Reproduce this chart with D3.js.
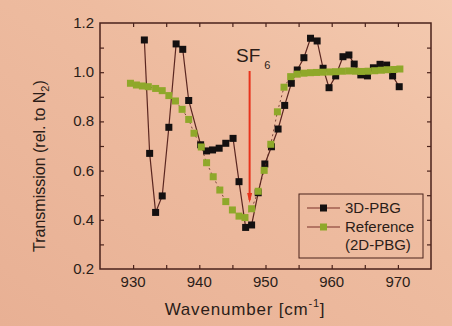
<!DOCTYPE html>
<html>
<head>
<meta charset="utf-8">
<script src="https://cdn.jsdelivr.net/npm/d3@7"></script>
<style>
  body { margin: 0; background: #ecbc9f; }
  svg { display: block; font-family: "Liberation Sans", Arial, sans-serif; }
</style>
</head>
<body>
<svg id="chart"></svg>
<script>
// 3D-PBG series
var pbgX = [931.7, 932.5, 933.4, 934.4, 935.4, 936.5, 937.5, 938.4, 940.2, 941.1, 942.0, 943.0, 944.0, 945.1, 946.0, 947.0, 947.9, 948.9, 949.9, 950.9, 951.9, 952.9, 953.9, 954.8, 955.8, 956.8, 957.8, 958.7, 959.6, 960.6, 961.7, 962.6, 963.4, 964.4, 965.4, 966.3, 967.3, 968.3, 969.2, 970.2];
var pbgY = [1.131, 0.67, 0.43, 0.497, 0.776, 1.115, 1.093, 0.885, 0.705, 0.680, 0.684, 0.691, 0.711, 0.731, 0.555, 0.369, 0.379, 0.51, 0.627, 0.697, 0.769, 0.865, 0.955, 1.009, 1.059, 1.138, 1.127, 1.016, 0.937, 0.985, 1.063, 1.07, 1.033, 0.989, 0.985, 1.018, 1.032, 1.029, 0.985, 0.941];

// Reference (2D-PBG) series
var refX = [929.6, 930.5, 931.4, 932.3, 933.4, 934.4, 935.4, 936.4, 937.4, 938.4, 939.2, 940.3, 941.1, 942.1, 943.1, 944.0, 945.0, 946.0, 946.9, 947.9, 948.9, 949.8, 950.8, 951.8, 952.8, 953.8, 954.8, 955.8, 956.8, 957.7, 958.7, 959.7, 960.6, 961.6, 962.6, 963.6, 964.5, 965.5, 966.5, 967.5, 968.4, 969.4, 970.3];
var refY = [0.955, 0.948, 0.944, 0.941, 0.934, 0.925, 0.905, 0.883, 0.849, 0.808, 0.752, 0.696, 0.632, 0.575, 0.521, 0.474, 0.440, 0.415, 0.409, 0.445, 0.516, 0.601, 0.707, 0.839, 0.939, 0.982, 0.992, 0.996, 0.998, 0.999, 1.000, 1.001, 1.002, 1.004, 1.005, 1.004, 1.003, 1.004, 1.006, 1.008, 1.010, 1.011, 1.013];

var xTicks = [930, 940, 950, 960, 970];
var yTicks = [0.2, 0.4, 0.6, 0.8, 1.0, 1.2];
var sfLine = 947.6; // SF6 absorption marker

var width = 452, height = 326;
var ink = "#2b1d18", frame = "#4a221b", lineCol = "#5a2620";
var green = "#8fa82a", black = "#141010";
var ms = 7; // marker size

var svg = d3.select("#chart").attr("width", width).attr("height", height);

// paper background
var defs = svg.append("defs");
var grad = defs.append("linearGradient").attr("id", "paper")
  .attr("x1", "0%").attr("y1", "100%").attr("x2", "100%").attr("y2", "0%");
grad.append("stop").attr("offset", "0%").attr("stop-color", "#e8b094");
grad.append("stop").attr("offset", "60%").attr("stop-color", "#eebca0");
grad.append("stop").attr("offset", "100%").attr("stop-color", "#f4cab0");
svg.append("rect").attr("width", width).attr("height", height).attr("fill", "url(#paper)");

var x = d3.scaleLinear().domain([925, 975]).range([100, 431]);
var y = d3.scaleLinear().domain([0.2, 1.2]).range([269, 23]);

var g = svg.append("g");

// ticks (inward, on all four sides)
g.append("g").attr("transform", "translate(0,269)")
  .call(d3.axisBottom(x).tickValues(d3.range(930, 975, 5)).tickSize(-4).tickFormat(""));
g.append("g").attr("transform", "translate(0,23)")
  .call(d3.axisTop(x).tickValues(d3.range(930, 975, 5)).tickSize(-4).tickFormat(""));
g.append("g").attr("transform", "translate(100,0)")
  .call(d3.axisLeft(y).tickValues(d3.range(0.3, 1.2, 0.1)).tickSize(-4).tickFormat(""));
g.append("g").attr("transform", "translate(431,0)")
  .call(d3.axisRight(y).tickValues(d3.range(0.3, 1.2, 0.1)).tickSize(-4).tickFormat(""));
g.selectAll(".domain").remove();
g.selectAll(".tick line").attr("stroke", frame).attr("stroke-width", 1.2);

svg.append("rect").attr("x", 100).attr("y", 23).attr("width", 331).attr("height", 246)
  .attr("fill", "none").attr("stroke", frame).attr("stroke-width", 1.5);

// tick labels
svg.append("g").selectAll("text").data(xTicks).join("text")
  .attr("x", d => x(d)).attr("y", 287).attr("text-anchor", "middle")
  .attr("font-size", 15).attr("fill", ink).text(d => d);
svg.append("g").selectAll("text").data(yTicks).join("text")
  .attr("x", 94).attr("y", d => y(d) + 5).attr("text-anchor", "end")
  .attr("font-size", 15).attr("fill", ink).text(d => d.toFixed(1));

// axis titles
var xt = svg.append("text").attr("x", 245).attr("y", 315).attr("text-anchor", "middle")
  .attr("font-size", 17).attr("letter-spacing", 0.8).attr("fill", ink);
xt.append("tspan").text("Wavenumber [cm");
xt.append("tspan").attr("font-size", 11).attr("dy", -8).text("-1");
xt.append("tspan").attr("dy", 8).text("]");

var yt = svg.append("text").attr("transform", "translate(45,252) rotate(-90)")
  .attr("text-anchor", "start").attr("font-size", 16).attr("fill", ink);
yt.append("tspan").text("Transmission (rel. to N");
yt.append("tspan").attr("font-size", 11).attr("dy", 4).text("2");
yt.append("tspan").attr("dy", -4).text(")");

// SF6 arrow
svg.append("line").attr("x1", x(sfLine)).attr("x2", x(sfLine)).attr("y1", 71).attr("y2", 200)
  .attr("stroke", "#e8321c").attr("stroke-width", 2);
svg.append("path")
  .attr("d", `M${x(sfLine) - 2.5},${193} L${x(sfLine) + 2.5},${193} L${x(sfLine)},${203} Z`)
  .attr("fill", "#e8321c");
var sf = svg.append("text").attr("x", 236).attr("y", 62).attr("font-size", 19).attr("fill", ink);
sf.append("tspan").text("SF");
sf.append("tspan").attr("font-size", 11).attr("dy", 7).attr("dx", 4).text("6");

// series
var pbg = pbgX.map((d, i) => ({ x: d, y: pbgY[i] }));
var ref = refX.map((d, i) => ({ x: d, y: refY[i] }));
var line = d3.line().x(d => x(d.x)).y(d => y(d.y));

svg.append("path").datum(pbg).attr("d", line).attr("fill", "none")
  .attr("stroke", lineCol).attr("stroke-width", 1.2);
svg.append("g").selectAll("rect").data(pbg).join("rect")
  .attr("x", d => x(d.x) - ms / 2).attr("y", d => y(d.y) - ms / 2)
  .attr("width", ms).attr("height", ms).attr("fill", black);

svg.append("path").datum(ref).attr("d", line).attr("fill", "none")
  .attr("stroke", lineCol).attr("stroke-width", 0.8).attr("stroke-dasharray", "2,3");
svg.append("g").selectAll("rect").data(ref).join("rect")
  .attr("x", d => x(d.x) - ms / 2).attr("y", d => y(d.y) - ms / 2)
  .attr("width", ms).attr("height", ms).attr("fill", green);

// legend
var lg = svg.append("g");
lg.append("rect").attr("x", 299).attr("y", 194).attr("width", 124).attr("height", 64)
  .attr("fill", "none").attr("stroke", frame).attr("stroke-width", 1);
var legendItems = [{ name: "3D-PBG", color: black, ly: 208 }, { name: "Reference", color: green, ly: 227 }];
legendItems.forEach(function (d) {
  lg.append("line").attr("x1", 307).attr("x2", 340).attr("y1", d.ly).attr("y2", d.ly)
    .attr("stroke", "#7a3028").attr("stroke-width", 1.2);
  lg.append("rect").attr("x", 320).attr("y", d.ly - ms / 2).attr("width", ms).attr("height", ms)
    .attr("fill", d.color);
  lg.append("text").attr("x", 345).attr("y", d.ly + 5).attr("font-size", 15)
    .attr("fill", ink).text(d.name);
});
lg.append("text").attr("x", 345).attr("y", 250).attr("font-size", 15).attr("fill", ink).text("(2D-PBG)");
</script>
</body>
</html>
